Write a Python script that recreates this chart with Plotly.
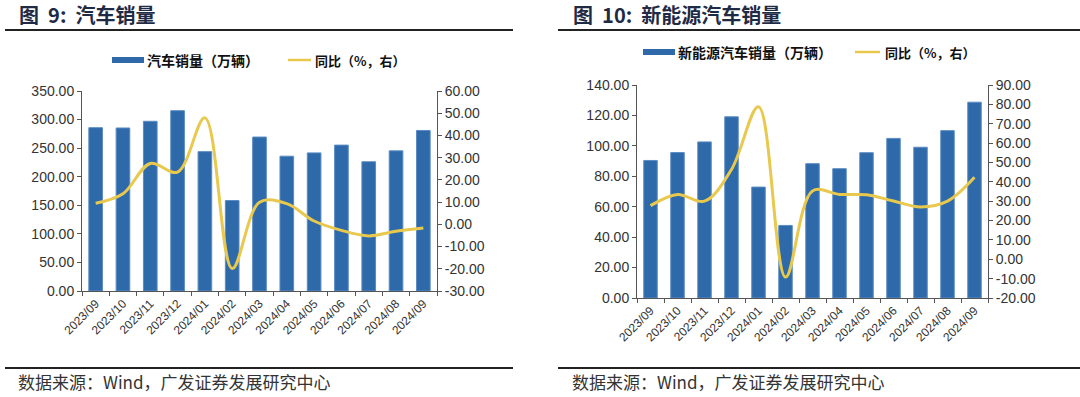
import plotly.graph_objects as go

months = ["2023/09", "2023/10", "2023/11", "2023/12", "2024/01", "2024/02", "2024/03",
          "2024/04", "2024/05", "2024/06", "2024/07", "2024/08", "2024/09"]

auto_sales = [285.8, 285.3, 297.0, 315.6, 243.9, 158.4, 269.4, 235.9, 241.7, 255.3, 226.2, 245.3, 280.9]
auto_yoy = [9.5, 13.8, 27.4, 23.5, 47.9, -19.9, 9.9, 9.3, 1.5, -2.7, -5.2, -3.1, -1.7]

nev_sales = [90.4, 95.6, 102.6, 119.1, 72.9, 47.7, 88.3, 85.0, 95.5, 104.9, 99.1, 110.0, 128.7]
nev_yoy = [27.7, 33.5, 30.0, 46.4, 78.8, -9.2, 35.3, 33.5, 33.3, 30.1, 27.0, 30.0, 42.3]

left_ticks_auto = [0, 50, 100, 150, 200, 250, 300, 350]
right_ticks_auto = [-30, -20, -10, 0, 10, 20, 30, 40, 50, 60]
left_ticks_nev = [0, 20, 40, 60, 80, 100, 120, 140]
right_ticks_nev = [-20, -10, 0, 10, 20, 30, 40, 50, 60, 70, 80, 90]

BAR = "#2E69A9"
LINE = "#E8C94E"
AX = "#555555"
TXT = "#333333"
TITLE = "#1F2A44"
NUM_FONT = "Arial, Liberation Sans, sans-serif"
CJK = "Noto Sans CJK SC, sans-serif"

W, H = 1080, 397

def px(x):
    return x / W

def py(y):
    return 1 - y / H

fig = go.Figure()

fig.add_trace(go.Bar(x=months, y=auto_sales, marker=dict(color=BAR, line=dict(color="#5B8CC4", width=1)),
                     width=0.5, xaxis="x", yaxis="y", name="汽车销量（万辆）", showlegend=False))
fig.add_trace(go.Scatter(x=months, y=auto_yoy, mode="lines", line=dict(color=LINE, width=3, shape="spline", smoothing=1.0),
                         xaxis="x", yaxis="y2", name="同比（%，右）", showlegend=False))
fig.add_trace(go.Bar(x=months, y=nev_sales, marker=dict(color=BAR, line=dict(color="#5B8CC4", width=1)),
                     width=0.5, xaxis="x2", yaxis="y3", name="新能源汽车销量（万辆）", showlegend=False))
fig.add_trace(go.Scatter(x=months, y=nev_yoy, mode="lines", line=dict(color=LINE, width=3, shape="spline", smoothing=1.0),
                         xaxis="x2", yaxis="y4", name="同比（%，右）", showlegend=False))

def xaxis(domain, anchor):
    return dict(domain=domain, anchor=anchor, type="category", tickangle=-45, showline=True,
                linecolor=AX, linewidth=1, ticks="outside", ticklen=4, tickcolor=AX,
                tickson="boundaries", showgrid=False, zeroline=False, automargin=False,
                tickfont=dict(family=NUM_FONT, size=12, color=TXT), fixedrange=True)

def yaxis(domain, rng, tickvals, side, anchor, overlaying=None):
    d = dict(domain=domain, range=rng, tickvals=tickvals, ticktext=[f"{v:.2f}" for v in tickvals],
             side=side, anchor=anchor, showline=True, linecolor=AX, linewidth=1, ticks="outside",
             ticklen=4, tickcolor=AX, showgrid=False, zeroline=False, automargin=False,
             tickfont=dict(family=NUM_FONT, size=14, color=TXT), fixedrange=True)
    if overlaying:
        d["overlaying"] = overlaying
    return d

yd1 = [py(291), py(91)]
yd2 = [py(298), py(85)]

fig.update_layout(
    template="none",
    width=W, height=H, autosize=False, margin=dict(l=0, r=0, t=0, b=0, pad=0),
    paper_bgcolor="white", plot_bgcolor="white", showlegend=False, bargap=0.5,
    xaxis=xaxis([px(82), px(437)], "y"),
    yaxis=yaxis(yd1, [0, 350], left_ticks_auto, "left", "x"),
    yaxis2=yaxis(yd1, [-30, 60], right_ticks_auto, "right", "x", overlaying="y"),
    xaxis2=xaxis([px(637), px(988)], "y3"),
    yaxis3=yaxis(yd2, [0, 140], left_ticks_nev, "left", "x2"),
    yaxis4=yaxis(yd2, [-20, 90], right_ticks_nev, "right", "x2", overlaying="y3"),
)

shapes = [
    dict(type="line", xref="paper", yref="paper", x0=px(5), x1=px(513), y0=py(30), y1=py(30),
         line=dict(color="#222222", width=2)),
    dict(type="line", xref="paper", yref="paper", x0=px(558), x1=px(1080), y0=py(30), y1=py(30),
         line=dict(color="#222222", width=2)),
    dict(type="line", xref="paper", yref="paper", x0=px(5), x1=px(513), y0=py(368), y1=py(368),
         line=dict(color="#222222", width=2)),
    dict(type="line", xref="paper", yref="paper", x0=px(558), x1=px(1080), y0=py(368), y1=py(368),
         line=dict(color="#222222", width=2)),
    dict(type="rect", xref="paper", yref="paper", x0=px(112), x1=px(144), y0=py(63), y1=py(57),
         fillcolor=BAR, line=dict(width=0)),
    dict(type="line", xref="paper", yref="paper", x0=px(288), x1=px(311), y0=py(60), y1=py(60),
         line=dict(color=LINE, width=2.5)),
    dict(type="rect", xref="paper", yref="paper", x0=px(643), x1=px(675), y0=py(55), y1=py(49),
         fillcolor=BAR, line=dict(width=0)),
    dict(type="line", xref="paper", yref="paper", x0=px(855), x1=px(880), y0=py(52), y1=py(52),
         line=dict(color=LINE, width=2.5)),
]

annotations = [
    dict(text="<b>图  9:  汽车销量</b>", x=px(17), y=py(15), xanchor="left", yanchor="middle",
         font=dict(family=CJK, size=20, color=TITLE)),
    dict(text="<b>图  10:  新能源汽车销量</b>", x=px(571), y=py(15), xanchor="left", yanchor="middle",
         font=dict(family=CJK, size=20, color=TITLE)),
    dict(text="<b>汽车销量（万辆）</b>", x=px(145), y=py(60), xanchor="left", yanchor="middle",
         font=dict(family=CJK, size=14, color="#111111")),
    dict(text="<b>同比（%，右）</b>", x=px(313), y=py(60), xanchor="left", yanchor="middle",
         font=dict(family=CJK, size=13, color="#111111")),
    dict(text="<b>新能源汽车销量（万辆）</b>", x=px(676), y=py(52), xanchor="left", yanchor="middle",
         font=dict(family=CJK, size=14, color="#111111")),
    dict(text="<b>同比（%，右）</b>", x=px(883), y=py(52), xanchor="left", yanchor="middle",
         font=dict(family=CJK, size=13, color="#111111")),
    dict(text="数据来源：Wind，广发证券发展研究中心", x=px(16), y=py(381), xanchor="left", yanchor="middle",
         font=dict(family=CJK, size=17, color="#333333")),
    dict(text="数据来源：Wind，广发证券发展研究中心", x=px(570), y=py(381), xanchor="left", yanchor="middle",
         font=dict(family=CJK, size=17, color="#333333")),
]
for a in annotations:
    a.update(xref="paper", yref="paper", showarrow=False)

fig.update_layout(shapes=shapes, annotations=annotations)

fig.write_html("out.html", config={"displayModeBar": False},
               post_script="document.body.style.margin='0';document.body.style.overflow='hidden';")
